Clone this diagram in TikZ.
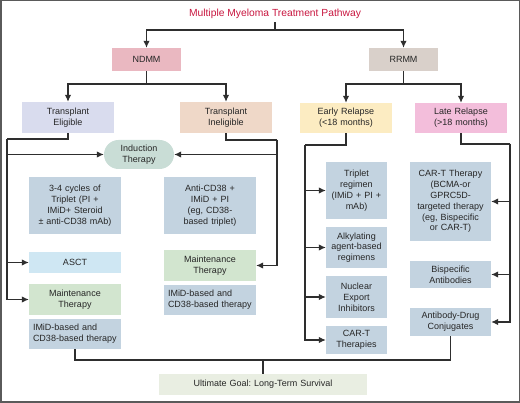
\documentclass[tikz,border=0pt]{standalone}
\usepackage{fontspec}
\setmainfont{Liberation Sans}
\usetikzlibrary{arrows.meta}
\frenchspacing

\definecolor{titlered}{HTML}{C8163F}
\definecolor{linegray}{HTML}{2E2E2E}
\definecolor{framegray}{HTML}{5A5A5A}
\definecolor{ndmmpink}{HTML}{EAB8C1}
\definecolor{rrmmtaupe}{HTML}{D9D0CA}
\definecolor{eliglav}{HTML}{D9DCEE}
\definecolor{ineligpeach}{HTML}{EFD8C8}
\definecolor{earlyyellow}{HTML}{FCECC2}
\definecolor{latepink}{HTML}{F3BEDB}
\definecolor{inductsage}{HTML}{C9DDD6}
\definecolor{steelblue}{HTML}{C3D3E0}
\definecolor{asctblue}{HTML}{CFE7F3}
\definecolor{maintgreen}{HTML}{D2E5CF}
\definecolor{goalgreen}{HTML}{E9EEE2}

\tikzset{
  box/.style={inner sep=0pt, align=center, text=black!85,
    font=\fontsize{9}{10.8}\selectfont},
  link/.style={draw=linegray, line width=1.2pt},
  arr/.style={link, -{Latex[length=7pt,width=6.5pt]}},
}

\begin{document}
\begin{tikzpicture}[x=1pt, y=-1pt]

% frame
\useasboundingbox (0,0) rectangle (520,403);
\draw[framegray, line width=1.5pt] (0.75,0.75) rectangle (519.25,402.25);

% title
\node[text=titlered, font=\fontsize{10.3}{12}\selectfont] (title) at (275,14)
  {Multiple Myeloma Treatment Pathway};

% first level
\node[box, fill=ndmmpink, text width=69pt, minimum height=23pt] (ndmm) at (146.5,59.5) {NDMM};
\node[box, fill=rrmmtaupe, text width=69pt, minimum height=23pt] (rrmm) at (403.5,59.5) {RRMM};

% second level
\node[box, fill=eliglav, text width=92pt, minimum height=31pt] (elig) at (68,117.5)
  {Transplant\\Eligible};
\node[box, fill=ineligpeach, text width=92pt, minimum height=31pt] (inelig) at (226,117.5)
  {Transplant\\Ineligible};
\node[box, fill=earlyyellow, text width=92pt, minimum height=30pt] (early) at (346,118)
  {Early Relapse\\(<18 months)};
\node[box, fill=latepink, text width=92pt, minimum height=30pt] (late) at (461,118)
  {Late Relapse\\(>18 months)};

% NDMM branch
\node[box, fill=inductsage, text width=70pt, minimum height=29pt, rounded corners=14.5pt] (induct) at (139,154.5)
  {Induction\\Therapy};
\node[box, fill=steelblue, text width=92pt, minimum height=57pt] (cycles) at (75,205.5)
  {3-4 cycles of\\Triplet (PI +\\IMiD+ Steroid\\± anti-CD38 mAb)};
\node[box, fill=steelblue, text width=92pt, minimum height=57pt] (anti) at (210,205.5)
  {Anti-CD38 +\\IMiD + PI\\(eg, CD38-\\based triplet)};
\node[box, fill=asctblue, text width=92pt, minimum height=21pt] (asct) at (75,262.5) {ASCT};
\node[box, fill=maintgreen, text width=92pt, minimum height=31pt] (maintL) at (75,299.5)
  {Maintenance\\Therapy};
\node[box, fill=steelblue, text width=84pt, inner xsep=4pt, minimum height=30pt, align=left] (imidL) at (75,334)
  {IMiD-based and\\CD38-based therapy};
\node[box, fill=maintgreen, text width=92pt, minimum height=31pt] (maintR) at (210,265.5)
  {Maintenance\\Therapy};
\node[box, fill=steelblue, text width=84pt, inner xsep=4pt, minimum height=30pt, align=left] (imidR) at (210,300)
  {IMiD-based and\\CD38-based therapy};

% RRMM branch
\node[box, fill=steelblue, text width=61pt, minimum height=57pt] (triplet) at (356.5,190.5)
  {Triplet\\regimen\\(IMiD + PI +\\mAb)};
\node[box, fill=steelblue, text width=61pt, minimum height=41pt] (alkyl) at (356.5,247.5)
  {Alkylating\\agent-based\\regimens};
\node[box, fill=steelblue, text width=61pt, minimum height=42pt] (nuclear) at (356.5,297)
  {Nuclear\\Export\\Inhibitors};
\node[box, fill=steelblue, text width=61pt, minimum height=28pt] (cartx) at (356.5,340)
  {CAR-T\\Therapies};
\node[box, fill=steelblue, text width=81pt, minimum height=79pt] (cart) at (450.5,201.5)
  {CAR-T Therapy\\(BCMA-or\\GPRC5D-\\targeted therapy\\(eg, Bispecific\\or CAR-T)};
\node[box, fill=steelblue, text width=81pt, minimum height=27pt] (bispec) at (450.5,274.5)
  {Bispecific\\Antibodies};
\node[box, fill=steelblue, text width=81pt, minimum height=28pt] (adc) at (450.5,322)
  {Antibody-Drug\\Conjugates};

% goal
\node[box, fill=goalgreen, text width=208pt, minimum height=21pt] (goal) at (263,384.5)
  {Ultimate Goal: Long-Term Survival};

% bus points
\coordinate (tsplit) at (275,30);
\coordinate (nsplit) at (146.5,84);
\coordinate (rsplit) at (403.5,84);
\coordinate (lbus) at (7,139);
\coordinate (rbus) at (277,140);
\coordinate (ebus) at (305,145);
\coordinate (lrbus) at (510,144);
\coordinate (gbus) at (263,360);

% connectors
\draw[link] (title.south) -- (tsplit);
\draw[arr] (tsplit) -| (ndmm);
\draw[arr] (tsplit) -| (rrmm);
\draw[link] (ndmm) -- (nsplit);
\draw[arr] (nsplit) -| (elig);
\draw[arr] (nsplit) -| (inelig);
\draw[link] (rrmm) -- (rsplit);
\draw[arr] (rsplit) -| (early);
\draw[arr] (rsplit) -| (late);

\draw[link] (elig.south) |- (lbus);
\draw[arr] (lbus) |- (induct.west);
\draw[arr] (lbus) |- (asct.west);
\draw[arr] (lbus) |- (maintL.west);
\draw[link] (inelig.south) |- (rbus);
\draw[arr] (rbus) |- (induct.east);
\draw[arr] (rbus) |- (maintR.east);

\draw[link] (early.south) |- (ebus);
\foreach \n in {triplet, alkyl, nuclear, cartx}
  \draw[arr] (ebus) |- (\n.west);
\draw[link] (late.south) |- (lrbus);
\foreach \n in {cart, bispec, adc}
  \draw[arr] (lrbus) |- (\n.east);

\draw[link] (imidL.south) |- (gbus);
\draw[link] (adc.south) |- (gbus);
\draw[link] (gbus) -- (goal.north);

\end{tikzpicture}
\end{document}
